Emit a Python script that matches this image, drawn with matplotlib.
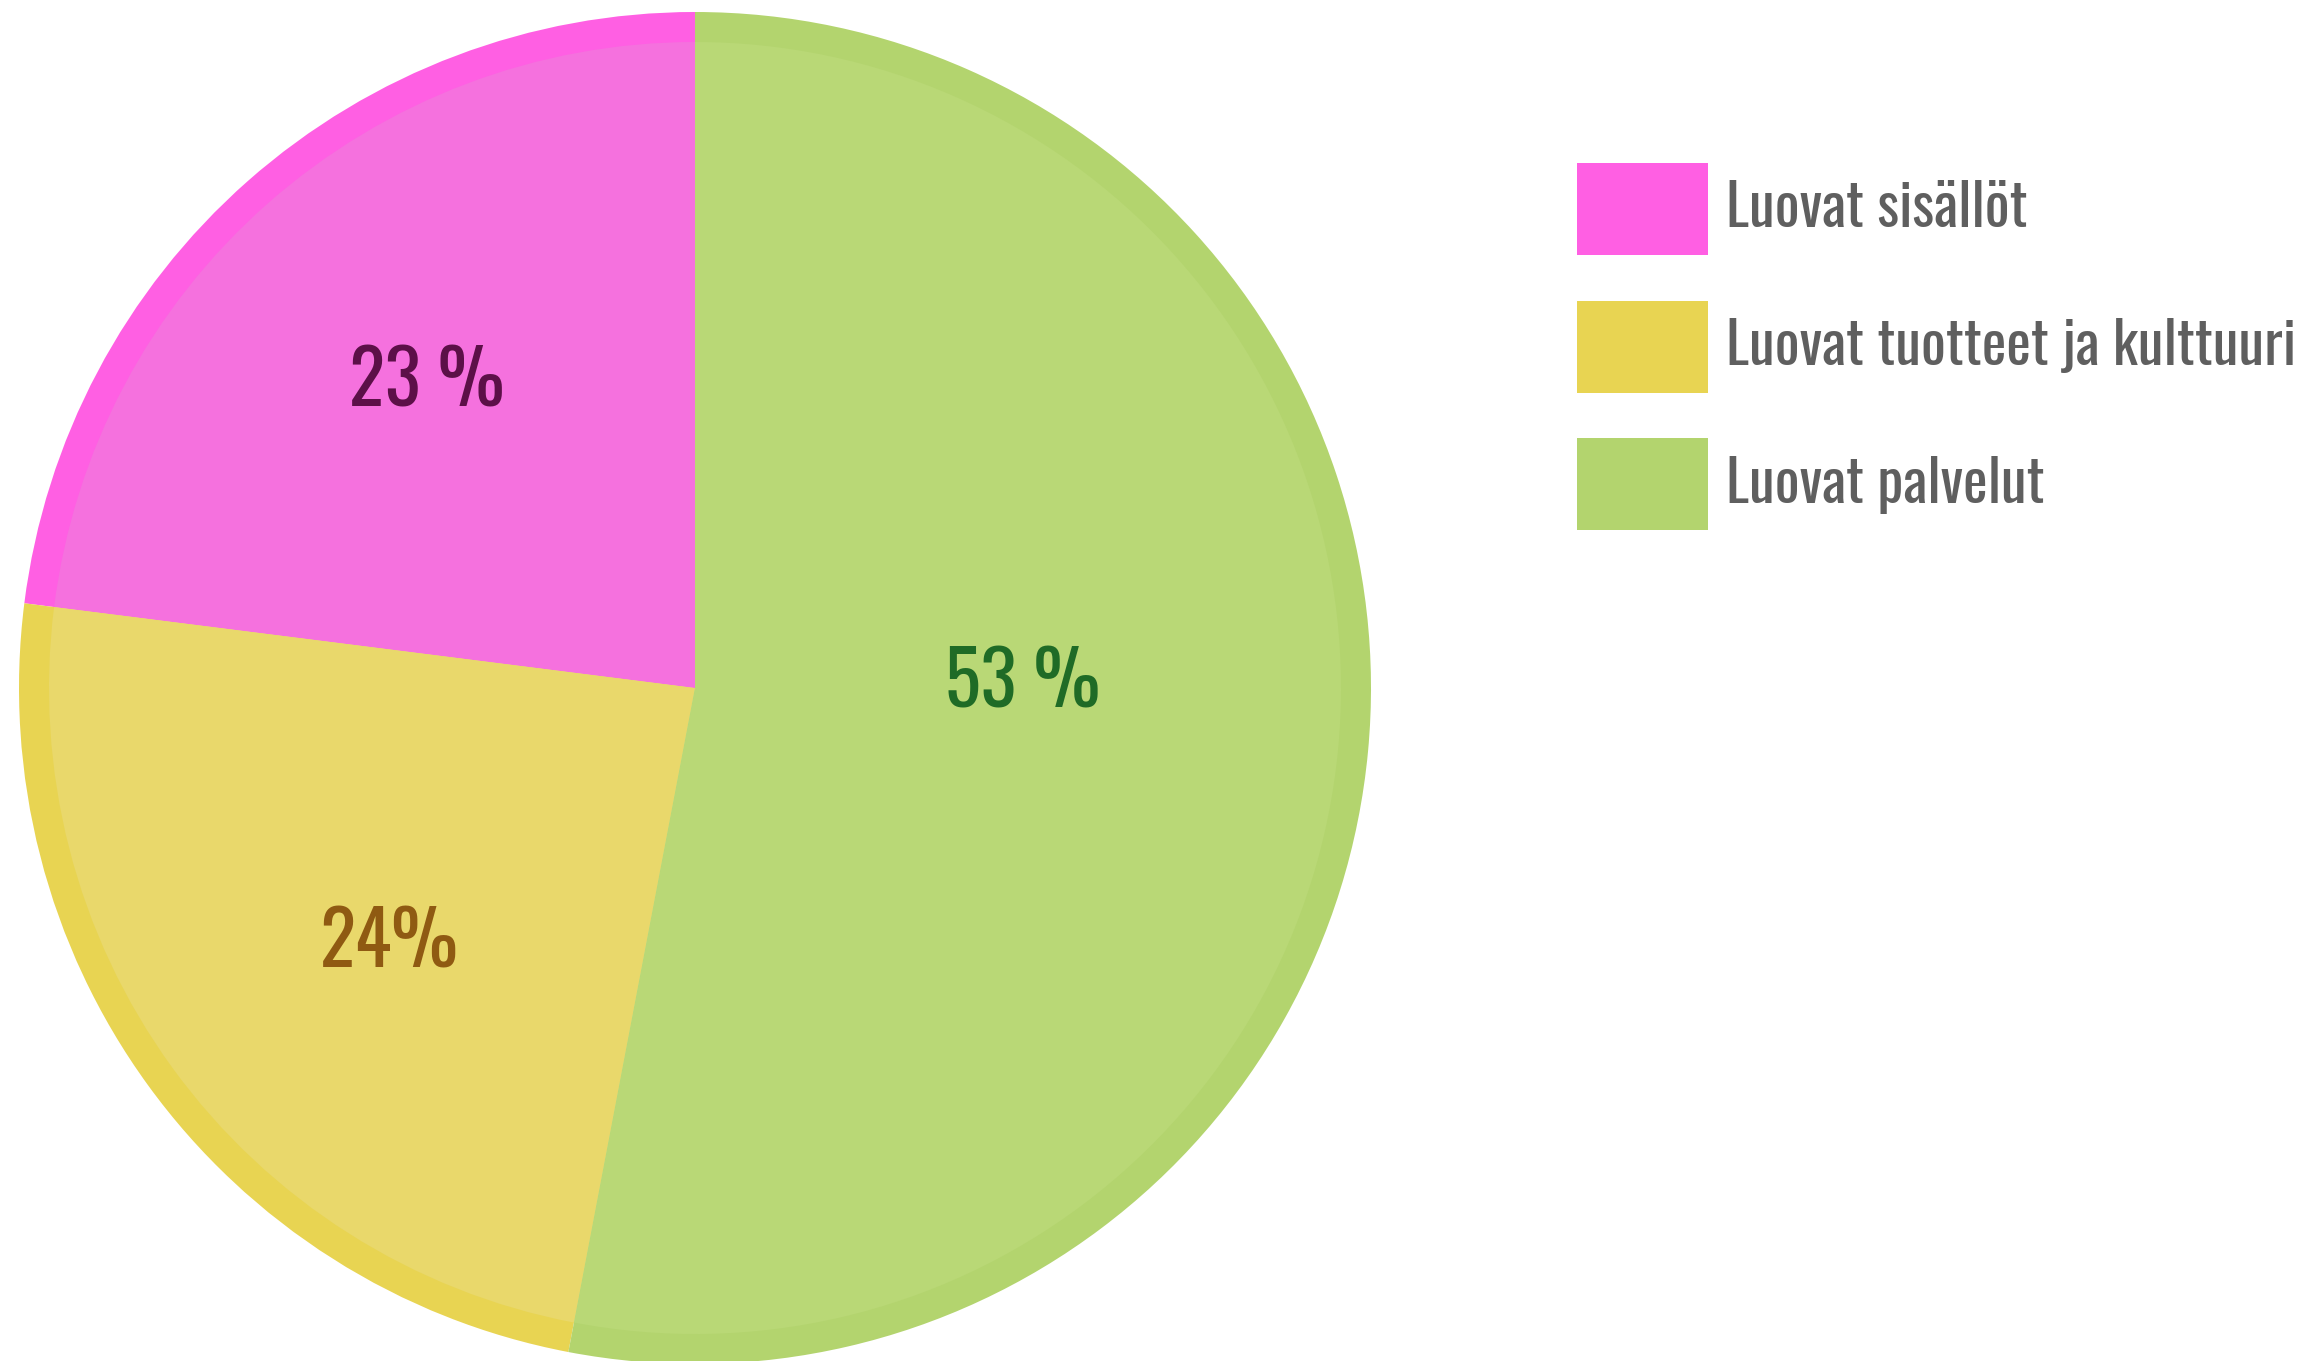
import matplotlib.pyplot as plt
import numpy as np

# Data
categories = ['Luovat sisällöt', 'Luovat tuotteet ja kulttuuri', 'Luovat palvelut']
shares = [23, 24, 53]
pct_labels = ['23 %', '24%', '53 %']

# Styling
rim_colors = ['#FF5FE3', '#E8D452', '#B3D46E']
fill_colors = ['#F571DE', '#E9D86B', '#B9D876']
pct_colors = ['#5C1048', '#8F5A12', '#1F6B26']
pct_dist = [0.60, 0.59, 0.485]
pct_turn = [0, 4, 6]   # degrees, labels sit a little off the mid angle
FONT = ['Oswald', 'Liberation Sans Narrow', 'DejaVu Sans']

W, H = 2319, 1361
fig = plt.figure(figsize=(W / 100, H / 100), dpi=100)
ax = fig.add_axes([0, 0, 1, 1])

cx, cy, R = 695, 673, 676
rim = 30

# outer rim: full radius, slightly stronger colour
wedges, _ = ax.pie(shares, colors=rim_colors, startangle=90, counterclock=True,
                   center=(cx, cy), radius=R, wedgeprops=dict(linewidth=0))
# inner fill
inner, _ = ax.pie(shares, colors=fill_colors, startangle=90, counterclock=True,
                  center=(cx, cy), radius=R - rim, wedgeprops=dict(linewidth=0))

# percentage labels
for w, lab, col, d, turn in zip(wedges, pct_labels, pct_colors, pct_dist, pct_turn):
    ang = np.deg2rad((w.theta1 + w.theta2) / 2 + turn)
    ax.text(cx + d * R * np.cos(ang), cy + d * R * np.sin(ang), lab,
            ha='center', va='center', fontsize=54, fontweight='semibold',
            color=col, family=FONT)

ax.set_xlim(0, W)
ax.set_ylim(0, H)
ax.set_aspect('equal')
ax.axis('off')

leg = ax.legend(wedges, categories, loc='upper left',
                bbox_to_anchor=(1577 / W, 1 - 163 / H), bbox_transform=fig.transFigure,
                frameon=False, borderpad=0, borderaxespad=0,
                handlelength=2.25, handleheight=2.05, handletextpad=0.31,
                labelspacing=0.78, prop={'family': FONT, 'size': 42})
for t in leg.get_texts():
    t.set_color('#5F5F5F')

fig.savefig('out.png', dpi=100)
